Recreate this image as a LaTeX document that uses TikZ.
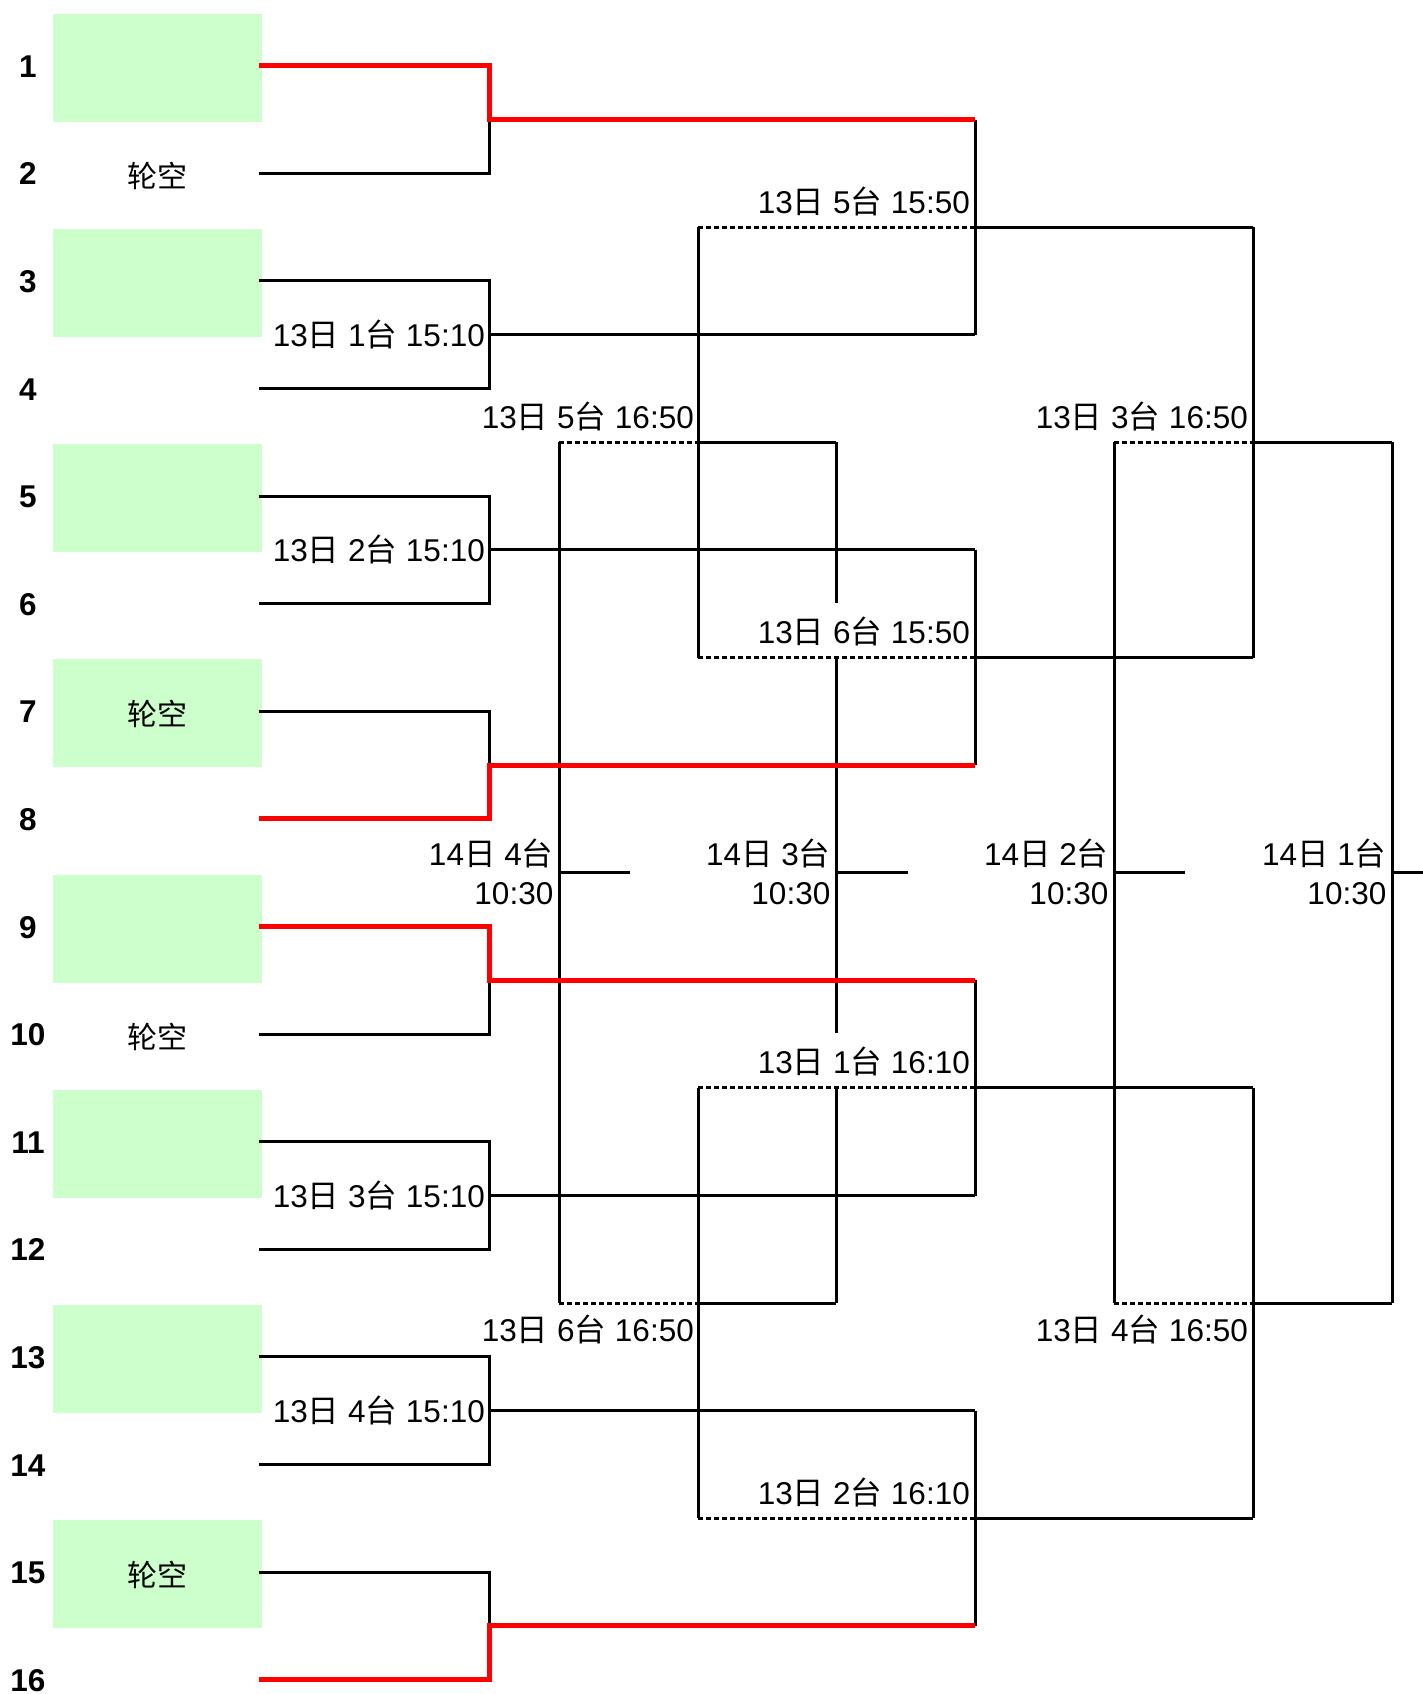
\documentclass[tikz,border=0pt]{standalone}
\usepackage{fontspec}
\setmainfont{Liberation Sans}
\newfontfamily\cjk{Noto Sans CJK SC}
\newcommand\labfont{\fontsize{31.5}{36}\selectfont}
\newcommand\numfont{\fontsize{31.5}{36}\selectfont\bfseries}
\newcommand\byefont{\fontsize{30}{34}\selectfont\cjk}
\newcommand\mlab[3]{#1{\cjk 日} #2{\cjk 台} #3}
\definecolor{boxgreen}{HTML}{CCFFCC}
\definecolor{winred}{HTML}{FF0000}
\begin{document}
\begin{tikzpicture}[x=1pt,y=-1pt,
  wire/.style={line width=3pt,black},
  win/.style={line width=5pt,winred},
  dashline/.style={line width=3pt,black,dash pattern=on 4.5pt off 3.5pt},
  lab/.style={font=\labfont,inner sep=0pt,anchor=base east},
  num/.style={font=\numfont,inner sep=0pt,anchor=base},
  bye/.style={font=\byefont,inner sep=0pt,anchor=center},
  teambox/.style={fill=boxgreen,draw=none,minimum width=209pt,minimum height=108pt,inner sep=0pt}]
\useasboundingbox (0,0) rectangle (1423,1694);
\fill[white] (0,0) rectangle (1423,1694);
% row coordinates
\foreach \i in {1,...,16}{
  \pgfmathsetmacro\ry{65.7+(\i-1)*107.6}
  \coordinate (s\i) at (259,\ry);
  \node[num] (num\i) at (28,\ry+11.5) {\i};
}
% green boxes
\foreach \i in {1,3,5,7,9,11,13,15}{
  \pgfmathsetmacro\ry{65.7+(\i-1)*107.6}
  \node[teambox] (box\i) at (157.5,\ry+2) {};
}
\node[bye] (bye2) at (157.5,176.3) {轮空};
\node[bye] (bye7) at (157.5,714.3) {轮空};
\node[bye] (bye10) at (157.5,1037.1) {轮空};
\node[bye] (bye15) at (157.5,1575.1) {轮空};
% round 1 junctions
\coordinate (M1) at (489,119.5);  \coordinate (B1) at (975,119.5);
\coordinate (M2) at (489,334.7);  \coordinate (B2) at (975,334.7);
\coordinate (M3) at (489,549.9);  \coordinate (B3) at (975,549.9);
\coordinate (M4) at (489,765.1);  \coordinate (B4) at (975,765.1);
\coordinate (M5) at (489,980.3);  \coordinate (B5) at (975,980.3);
\coordinate (M6) at (489,1195.5); \coordinate (B6) at (975,1195.5);
\coordinate (M7) at (489,1410.7); \coordinate (B7) at (975,1410.7);
\coordinate (M8) at (489,1625.9); \coordinate (B8) at (975,1625.9);
% round 2 junctions
\coordinate (N1) at (975,227.1);  \coordinate (C1) at (698,227.1);  \coordinate (F1) at (1253,227.1);
\coordinate (N2) at (975,657.5);  \coordinate (C2) at (698,657.5);  \coordinate (F2) at (1253,657.5);
\coordinate (N3) at (975,1087.9); \coordinate (C3) at (698,1087.9); \coordinate (F3) at (1253,1087.9);
\coordinate (N4) at (975,1518.3); \coordinate (C4) at (698,1518.3); \coordinate (F4) at (1253,1518.3);
% third level
\coordinate (P1) at (698,442.3);  \coordinate (D1) at (559,442.3);  \coordinate (E1) at (836,442.3);
\coordinate (P2) at (698,1303.1); \coordinate (D2) at (559,1303.1); \coordinate (E2) at (836,1303.1);
\coordinate (Q1) at (1253,442.3); \coordinate (G1) at (1114,442.3); \coordinate (H1) at (1392,442.3);
\coordinate (Q2) at (1253,1303.1);\coordinate (G2) at (1114,1303.1);\coordinate (H2) at (1392,1303.1);
\coordinate (Eg1) at (836,602.5); \coordinate (En2) at (836,657.5);
\coordinate (Eg2) at (836,1033);  \coordinate (En3) at (836,1087.9);
% finals
\coordinate (D0) at (559,872.7);  \coordinate (d0) at (630,872.7);
\coordinate (E0) at (836,872.7);  \coordinate (e0) at (908,872.7);
\coordinate (G0) at (1114,872.7); \coordinate (g0) at (1185,872.7);
\coordinate (H0) at (1392,872.7); \coordinate (h0) at (1423,872.7);

% ---- black wires ----
\draw[wire] (s2) -| (M1);
\draw[wire] (s3) -| (M2) |- (s4);  \draw[wire] (M2) -- (B2);
\draw[wire] (s5) -| (M3) |- (s6);  \draw[wire] (M3) -- (B3);
\draw[wire] (s7) -| (M4);
\draw[wire] (s10) -| (M5);
\draw[wire] (s11) -| (M6) |- (s12); \draw[wire] (M6) -- (B6);
\draw[wire] (s13) -| (M7) |- (s14); \draw[wire] (M7) -- (B7);
\draw[wire] (s15) -| (M8);
% round 2
\draw[wire] (B1) -- (B2); \draw[wire] (B3) -- (B4);
\draw[wire] (B5) -- (B6); \draw[wire] (B7) -- (B8);
\foreach \k in {1,2,3,4}{
  \draw[wire] (N\k) -- (F\k);
  \draw[dashline] (C\k) -- (N\k);
}
% consolation left
\draw[wire] (C1) -- (C2); \draw[wire] (C3) -- (C4);
\draw[wire] (P1) -- (E1); \draw[dashline] (D1) -- (P1);
\draw[wire] (P2) -- (E2); \draw[dashline] (D2) -- (P2);
\draw[wire] (D1) -- (D2); \draw[wire] (D0) -- (d0);
\draw[wire] (E1) -- (Eg1); \draw[wire] (En2) -- (Eg2); \draw[wire] (En3) -- (E2);
\draw[wire] (E0) -- (e0);
% right side
\draw[wire] (F1) -- (F2); \draw[wire] (F3) -- (F4);
\draw[wire] (Q1) -- (H1); \draw[dashline] (G1) -- (Q1);
\draw[wire] (Q2) -- (H2); \draw[dashline] (G2) -- (Q2);
\draw[wire] (G1) -- (G2); \draw[wire] (G0) -- (g0);
\draw[wire] (H1) -- (H2); \draw[wire] (H0) -- (h0);
% ---- red winners ----
\draw[win] (s1) -| (M1) -- (B1);
\draw[win] (s8) -| (M4) -- (B4);
\draw[win] (s9) -| (M5) -- (B5);
\draw[win] (s16) -| (M8) -- (B8);

% ---- labels ----
\node[lab] (r1a) at (485,346.7)  {\mlab{13}{1}{15:10}};
\node[lab] (r1b) at (485,561.9)  {\mlab{13}{2}{15:10}};
\node[lab] (r1c) at (485,1207.5) {\mlab{13}{3}{15:10}};
\node[lab] (r1d) at (485,1422.7) {\mlab{13}{4}{15:10}};
\node[lab] (r2a) at (970,213.1)  {\mlab{13}{5}{15:50}};
\node[lab] (r2b) at (970,643.5)  {\mlab{13}{6}{15:50}};
\node[lab] (r2c) at (970,1073.9) {\mlab{13}{1}{16:10}};
\node[lab] (r2d) at (970,1504.3) {\mlab{13}{2}{16:10}};
\node[lab] (r3a) at (694,428.3)  {\mlab{13}{5}{16:50}};
\node[lab] (r3b) at (694,1341.6) {\mlab{13}{6}{16:50}};
\node[lab] (r3c) at (1248,428.3) {\mlab{13}{3}{16:50}};
\node[lab] (r3d) at (1248,1341.6){\mlab{13}{4}{16:50}};
\node[lab] (fa1) at (553.5,865.2) {14{\cjk 日} 4{\cjk 台}};
\node[lab] (fa2) at (553.5,904.2) {10:30};
\node[lab] (fb1) at (830.5,865.2) {14{\cjk 日} 3{\cjk 台}};
\node[lab] (fb2) at (830.5,904.2) {10:30};
\node[lab] (fc1) at (1108.5,865.2) {14{\cjk 日} 2{\cjk 台}};
\node[lab] (fc2) at (1108.5,904.2) {10:30};
\node[lab] (fd1) at (1386.5,865.2) {14{\cjk 日} 1{\cjk 台}};
\node[lab] (fd2) at (1386.5,904.2) {10:30};
\end{tikzpicture}
\end{document}
